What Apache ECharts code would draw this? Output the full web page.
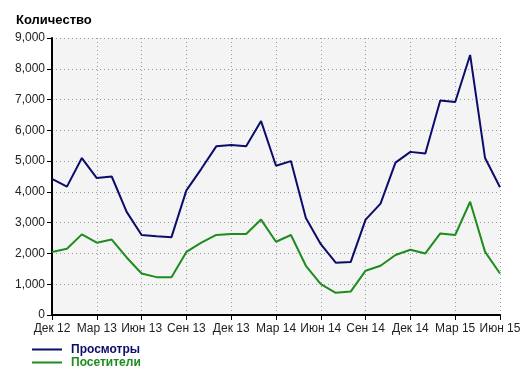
<!DOCTYPE html>
<html><head><meta charset="utf-8">
<script src="https://cdn.jsdelivr.net/npm/echarts@6/dist/echarts.min.js"></script>
<style>html,body{margin:0;padding:0;background:#fff}#c{width:527px;height:373px}</style>
</head><body><div id="c"></div>
<script>
const categories = ['Дек 12','Янв 13','Фев 13','Мар 13','Апр 13','Май 13','Июн 13','Июл 13','Авг 13','Сен 13','Окт 13','Ноя 13',
  'Дек 13','Янв 14','Фев 14','Мар 14','Апр 14','Май 14','Июн 14','Июл 14','Авг 14','Сен 14','Окт 14','Ноя 14',
  'Дек 14','Янв 15','Фев 15','Мар 15','Апр 15','Май 15','Июн 15'];
const views = [4420,4170,5100,4450,4500,3350,2600,2560,2530,4050,4750,5480,5520,5480,6300,4850,5000,3150,2300,1700,1720,3100,3620,4950,5300,5250,6970,6920,8450,5100,4150];
const visitors = [2050,2150,2620,2350,2450,1870,1350,1230,1230,2050,2350,2600,2630,2630,3100,2380,2600,1600,1000,720,760,1440,1600,1950,2120,2000,2650,2600,3680,2050,1350];
const yTicks = [0,1000,2000,3000,4000,5000,6000,7000,8000,9000];
const seriesNames = ['Просмотры','Посетители'];
const colors = ['#0c0c6a','#1e8c1e'];

const chart = echarts.init(document.getElementById('c'));
const font = 'Liberation Sans, Arial, sans-serif';
chart.setOption({
  animation:false,
  title:{text:'Количество', left:11, top:9, textStyle:{fontFamily:font, fontSize:13, fontWeight:'bold', color:'#000'}},
  grid:{left:52, right:27, top:38, bottom:58, show:true, backgroundColor:'#f4f4f4', borderWidth:0},
  legend:{orient:'vertical', left:32, top:343, padding:0, itemWidth:30, itemHeight:2, itemGap:0, icon:'rect',
    data:[{name:seriesNames[0], textStyle:{color:colors[0]}},{name:seriesNames[1], textStyle:{color:colors[1]}}],
    textStyle:{fontFamily:font, fontSize:12, fontWeight:'bold', lineHeight:13, padding:[0,0,0,4]}},
  xAxis:{type:'category', data:categories, boundaryGap:false,
    axisLine:{lineStyle:{color:'#000', width:2}},
    axisTick:{interval:2, length:5, lineStyle:{color:'#000'}},
    axisLabel:{interval:2, color:'#222', fontFamily:font, fontSize:12, margin:8},
    splitLine:{show:true, interval:2, lineStyle:{color:'#999', type:[1,3], width:1}}},
  yAxis:{type:'value', min:0, max:9000, interval:1000,
    axisLine:{show:true, lineStyle:{color:'#000', width:2}},
    axisTick:{show:true, length:5, lineStyle:{color:'#000'}},
    axisLabel:{color:'#222', fontFamily:font, fontSize:12, margin:7,
      formatter:v=>yTicks.includes(v)?v.toLocaleString('en-US'):''},
    splitLine:{show:true, lineStyle:{color:'#999', type:[1,3], width:1}}},
  series:[
    {name:seriesNames[0], type:'line', data:views, symbol:'none', lineStyle:{color:colors[0], width:2}, itemStyle:{color:colors[0]}},
    {name:seriesNames[1], type:'line', data:visitors, symbol:'none', lineStyle:{color:colors[1], width:2}, itemStyle:{color:colors[1]}}
  ]
});
</script></body></html>
